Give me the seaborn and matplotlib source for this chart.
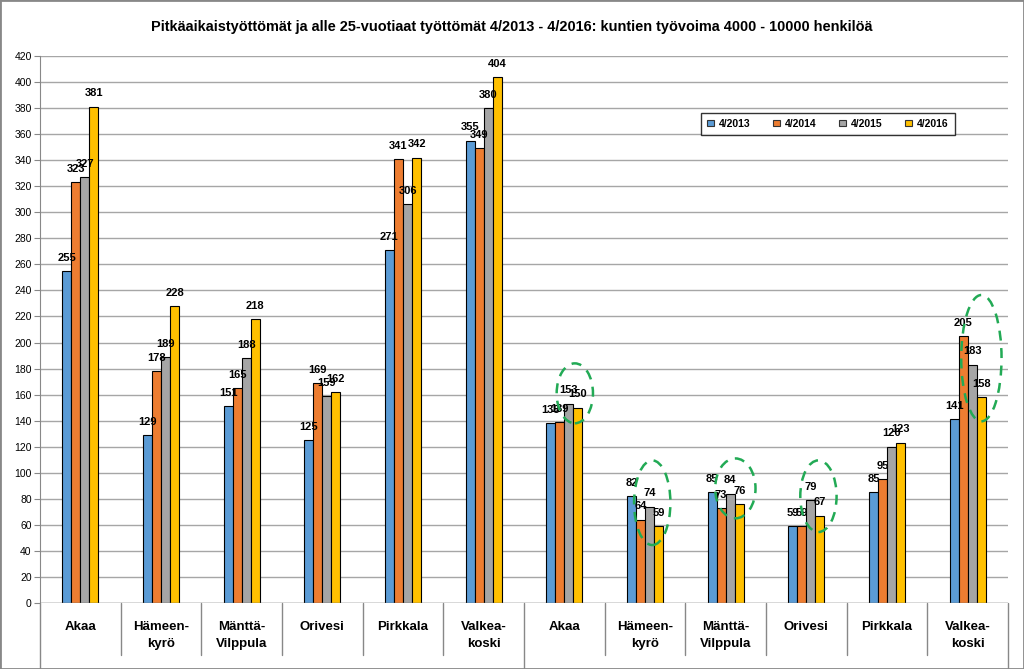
import pandas as pd
import numpy as np
import seaborn as sns
import matplotlib.pyplot as plt
from matplotlib.patches import Ellipse, Rectangle
import matplotlib.transforms as mtransforms

# kunnat ja vuodet
kunnat = ['Akaa', 'Hämeen-\nkyrö', 'Mänttä-\nVilppula', 'Orivesi', 'Pirkkala', 'Valkea-\nkoski']
vuodet = ['4/2013', '4/2014', '4/2015', '4/2016']

# pitkäaikaistyöttömät
pitka_2013 = [255, 129, 151, 125, 271, 355]
pitka_2014 = [323, 178, 165, 169, 341, 349]
pitka_2015 = [327, 189, 188, 159, 306, 380]
pitka_2016 = [381, 228, 218, 162, 342, 404]

# alle 25-vuotiaat
nuoret_2013 = [138, 82, 85, 59, 85, 141]
nuoret_2014 = [139, 64, 73, 59, 95, 205]
nuoret_2015 = [153, 74, 84, 79, 120, 183]
nuoret_2016 = [150, 59, 76, 67, 123, 158]

varit = ['#5B9BD5', '#ED7D31', '#A5A5A5', '#FFC000']

# long format for seaborn
rows = []
sarjat = [pitka_2013, pitka_2014, pitka_2015, pitka_2016]
sarjat2 = [nuoret_2013, nuoret_2014, nuoret_2015, nuoret_2016]
for j, v in enumerate(vuodet):
    for i in range(6):
        rows.append({'paikka': str(i), 'vuosi': v, 'arvo': sarjat[j][i]})
        rows.append({'paikka': str(i + 6), 'vuosi': v, 'arvo': sarjat2[j][i]})
df = pd.DataFrame(rows)
jarjestys = [str(i) for i in range(12)]

sns.set_style('white')
plt.rcParams['font.family'] = ['Liberation Sans', 'DejaVu Sans']
plt.rcParams['text.color'] = 'black'
plt.rcParams['xtick.color'] = 'black'
plt.rcParams['ytick.color'] = 'black'

fig = plt.figure(figsize=(10.24, 6.69), dpi=100)
ax = fig.add_axes([40 / 1024, 66 / 669, 968 / 1024, 547 / 669])

sns.barplot(data=df, x='paikka', y='arvo', hue='vuosi', order=jarjestys,
            hue_order=vuodet, palette=varit, width=0.45, gap=0,
            edgecolor='black', linewidth=0.8, saturation=1, ax=ax, zorder=3)

for c in ax.containers:
    ax.bar_label(c, fmt='%d', padding=6, fontsize=8, fontweight='bold', zorder=5)

ax.set_ylim(0, 420)
ax.set_xlim(-0.5, 11.5)
ax.set_yticks(range(0, 421, 20))
ax.tick_params(axis='y', labelsize=7.5, length=4, color='#888888', pad=2, left=True)
ax.set_xticks(range(12))
ax.set_xticklabels(kunnat * 2, fontsize=9.5, fontweight='bold', va='top', linespacing=1.5)
ax.tick_params(axis='x', length=0, pad=13)
ax.set_xlabel('')
ax.set_ylabel('')
ax.yaxis.grid(True, color='#A6A6A6', linewidth=1, zorder=0)
ax.set_axisbelow(True)
for s in ['top', 'right', 'bottom']:
    ax.spines[s].set_visible(False)
ax.spines['left'].set_color('#888888')
ax.axhline(0, color='#888888', lw=1, zorder=4)

# category table lines under the axis
trans = mtransforms.blended_transform_factory(ax.transData, ax.transAxes)
for k in range(13):
    x = k - 0.5
    alas = -0.12 if k in (0, 6, 12) else -0.095
    ax.plot([x, x], [0, alas], transform=trans, color='#888888', lw=1, clip_on=False)

# green dashed circles
ympyrat = [(6, 0.13, 161, 0.45, 46), (7, 0.09, 77, 0.45, 65), (8, 0.12, 88, 0.5, 46),
           (9, 0.15, 82, 0.45, 55), (11, 0.17, 188, 0.5, 97)]
for pos, dx, yc, w, h in ympyrat:
    ax.add_patch(Ellipse((pos + dx, yc), w, h, fill=False, edgecolor='#22AA55',
                         lw=1.8, linestyle=(0, (4, 3)), zorder=6))

# legend
ax.get_legend().remove()
handles = [Rectangle((0, 0), 1, 1, facecolor=varit[i], edgecolor='#333333', lw=0.8) for i in range(4)]
leg = ax.legend(handles, vuodet, ncol=4, loc='center', bbox_to_anchor=(0.814, 0.876),
                frameon=True, fancybox=False, handlelength=0.6,
                handleheight=0.6, columnspacing=2.2, handletextpad=0.5,
                borderpad=0.6, prop={'weight': 'bold', 'size': 7.5})
leg.get_frame().set_edgecolor('black')
leg.get_frame().set_linewidth(1)

otsikko = fig.text(0.5, 1 - 27 / 669,
                   'Pitkäaikaistyöttömät ja alle 25-vuotiaat työttömät 4/2013 - 4/2016: kuntien työvoima 4000 - 10000 henkilöä',
                   ha='center', va='center', fontsize=10, fontweight='bold')
# fit title width to about 720 px
fig.canvas.draw()
leveys = otsikko.get_window_extent().width
otsikko.set_fontsize(10 * 720 / leveys)

fig.patches.append(Rectangle((0, 0), 1, 1, transform=fig.transFigure, fill=False,
                             edgecolor='#888888', lw=2))

fig.savefig('out.png', dpi=100)
